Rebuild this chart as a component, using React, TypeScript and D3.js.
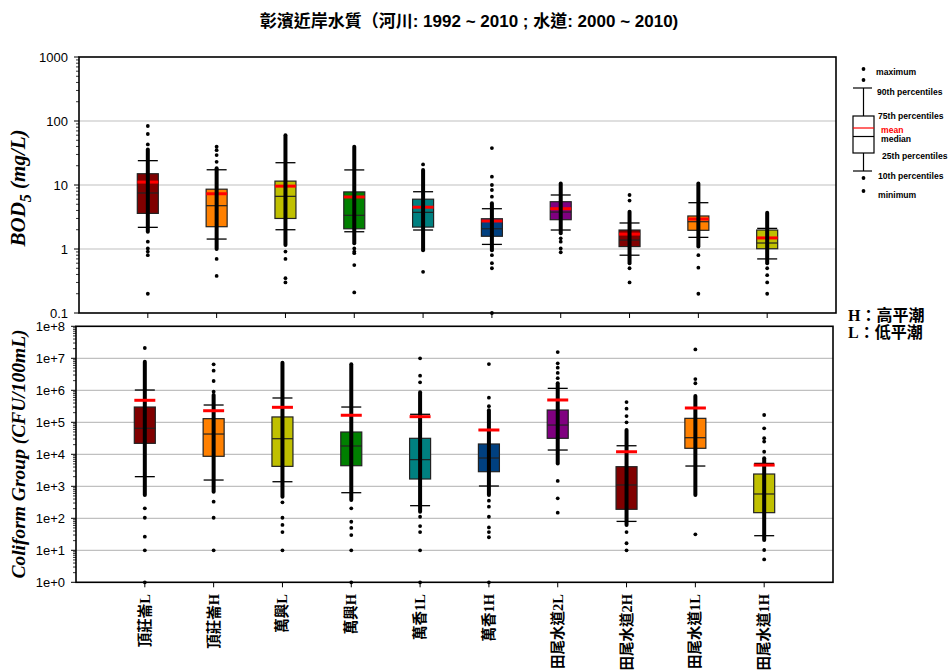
import React from 'react';
import * as d3 from 'd3';

const categories = ['頂莊崙L', '頂莊崙H', '萬興L', '萬興H', '萬香1L', '萬香1H', '田尾水道2L', '田尾水道2H', '田尾水道1L', '田尾水道1H'];
const boxColors = ['#800000', '#ff8000', '#c0c000', '#008000', '#008080', '#004080', '#800080', '#800000', '#ff8000', '#c0c000'];

// BOD5 (mg/L)
const bodP10 = [2.18, 1.43, 2.0, 1.86, 1.98, 1.18, 1.98, 0.8, 1.52, 0.7];
const bodP25 = [3.6, 2.23, 3.0, 2.07, 2.2, 1.58, 2.87, 1.09, 1.96, 1.01];
const bodMedian = [7.5, 4.75, 6.65, 3.36, 3.74, 2.07, 3.78, 1.38, 2.67, 1.24];
const bodP75 = [15.0, 8.6, 11.5, 7.8, 6.0, 2.97, 5.48, 1.98, 3.28, 1.98];
const bodP90 = [24, 17.3, 22.3, 17.2, 7.85, 4.26, 6.98, 2.55, 5.29, 2.1];
const bodMean = [11.1, 7.3, 9.6, 6.5, 4.5, 2.74, 4.26, 1.71, 2.94, 1.49];
const bodDense = [[1.86, 36], [1.0, 18.2], [1.15, 60], [1.23, 39.6], [0.96, 17.1], [0.96, 5.18], [1.76, 10.6], [0.6, 3.83], [1.09, 10.6], [0.6, 3.69]];
const bodPoints = [
  [83.5, 62.6, 43, 1.3, 1.02, 0.91, 0.8, 0.2],
  [39.6, 35, 29.4, 23, 0.7, 0.38],
  [0.91, 0.7, 0.35, 0.3],
  [1.02, 0.91, 0.86, 0.56, 0.21],
  [21, 0.44],
  [37.8, 13.5, 10, 8.35, 6.56, 0.8, 0.6, 0.5, 0.1],
  [1.47, 1.3, 1.02, 0.89],
  [6.98, 5.7, 0.5, 0.3],
  [0.8, 0.51, 0.2],
  [0.5, 0.39, 0.3, 0.2],
];

// Coliform group (CFU/100mL)
const colP10 = [2.0e3, 1.57e3, 1.39e3, 631, 248, 1.02e3, 1.36e4, 80, 4.3e3, 28.6];
const colP25 = [2.2e4, 8.66e3, 4.2e3, 4.4e3, 1.69e3, 2.86e3, 3.16e4, 191, 1.54e4, 150];
const colMedian = [6.5e4, 4.3e4, 3.07e4, 1.82e4, 6.8e3, 7.66e3, 8.2e4, 1.1e3, 3.3e4, 575];
const colP75 = [3.0e5, 1.3e5, 1.47e5, 4.97e4, 3.16e4, 2.1e4, 2.42e5, 4.1e3, 1.33e5, 2.42e3];
const colP90 = [1.02e6, 3.47e5, 5.75e5, 3.0e5, 1.78e5, 5.75e4, 1.15e6, 1.85e4, 2.8e5, 5.2e3];
const colMean = [4.87e5, 2.3e5, 2.94e5, 1.66e5, 1.5e5, 5.75e4, 4.98e5, 1.2e4, 2.8e5, 4.6e3];
const colDense = [[535, 7.8e6], [678, 7.1e5], [473, 7.3e6], [373, 6.5e6], [161, 8.66e5], [535, 2.4e5], [5.2e3, 1.66e6], [62, 5.75e4], [535, 6.6e5], [21, 7.5e3]];
const colPoints = [
  [2.1e7, 205, 104, 26.6, 10, 1],
  [6.5e6, 4.1e6, 1.95e6, 9.0e5, 330, 104, 10],
  [316, 104, 62, 37, 10],
  [205, 78, 50, 30, 10, 1],
  [1e7, 2.86e6, 1.78e6, 112, 57, 37, 10, 1],
  [6.6e6, 5.9e5, 3.2e5, 355, 230, 112, 52, 37, 25.6, 1],
  [1.57e7, 6.98e6, 5.1e6, 3.5e6, 2.4e6, 1.47e3, 422, 150],
  [4.3e5, 2.66e5, 1.57e5, 1.0e5, 37, 16.6, 10],
  [1.9e7, 2.25e6, 1.66e6, 31.6],
  [1.69e5, 6.5e4, 3.2e4, 2.5e4, 1.2e4, 10.2, 5.2],
];

const bodTicks = [0.1, 1, 10, 100, 1000];
const bodTickLabels = ['0.1', '1', '10', '100', '1000'];
const colTicks = [1, 10, 100, 1e3, 1e4, 1e5, 1e6, 1e7, 1e8];
const colTickLabels = ['1e+0', '1e+1', '1e+2', '1e+3', '1e+4', '1e+5', '1e+6', '1e+7', '1e+8'];

const legendLabels = ['maximum', '90th percentiles', '75th percentiles', 'mean', 'median', '25th percentiles', '10th percentiles', 'minimum'];

const SANS = 'Arial, "Liberation Sans", Helvetica, sans-serif';
const SERIF = '"Times New Roman", "Liberation Serif", serif';

type PanelProps = {
  x0: number; x1: number; y0: number; y1: number;
  domain: [number, number];
  ticks: number[]; tickLabels: string[];
  p10: number[]; p25: number[]; med: number[]; p75: number[]; p90: number[]; mean: number[];
  dense: number[][]; points: number[][];
  meanOnTop: boolean;
  meanHalf: number;
};

function Panel(p: PanelProps) {
  const x = d3.scaleLinear().domain([0, categories.length + 1]).range([p.x0, p.x1]);
  const y = d3.scaleLog().domain(p.domain).range([p.y1, p.y0]).clamp(true);
  const minor: number[] = [];
  const lo = Math.round(Math.log10(p.domain[0]));
  const hi = Math.round(Math.log10(p.domain[1]));
  for (let e = lo; e < hi; e++) {
    for (let k = 2; k <= 9; k++) minor.push(k * Math.pow(10, e));
  }
  const bw = 10.5;
  const cw = 10;
  return (
    <g>
      {p.ticks.slice(1, -1).map((t, i) => (
        <line key={'g' + i} x1={p.x0} x2={p.x1} y1={y(t)} y2={y(t)} stroke="#c0c0c0" strokeWidth={1.2} />
      ))}
      {categories.map((c, i) => {
        const cx = x(i + 1);
        const meanLine = (
          <line x1={cx - p.meanHalf} x2={cx + p.meanHalf} y1={y(p.mean[i])} y2={y(p.mean[i])} stroke="#ff0000" strokeWidth={3} />
        );
        return (
          <g key={c}>
            <line x1={cx} x2={cx} y1={y(p.p90[i])} y2={y(p.p75[i])} stroke="#000" strokeWidth={1.2} />
            <line x1={cx} x2={cx} y1={y(p.p25[i])} y2={y(p.p10[i])} stroke="#000" strokeWidth={1.2} />
            <rect x={cx - bw} width={2 * bw} y={y(p.p75[i])} height={y(p.p25[i]) - y(p.p75[i])} fill={boxColors[i]} stroke="#222" strokeWidth={1.2} />
            <line x1={cx - bw} x2={cx + bw} y1={y(p.med[i])} y2={y(p.med[i])} stroke="#222" strokeWidth={1.2} />
            {!p.meanOnTop && meanLine}
            <line x1={cx} x2={cx} y1={y(p.dense[i][0])} y2={y(p.dense[i][1])} stroke="#000" strokeWidth={4} strokeLinecap="round" />
            {p.points[i].map((v, j) => (
              <circle key={j} cx={cx} cy={y(v)} r={1.9} fill="#000" />
            ))}
            <line x1={cx - cw} x2={cx + cw} y1={y(p.p90[i])} y2={y(p.p90[i])} stroke="#000" strokeWidth={1.3} />
            <line x1={cx - cw} x2={cx + cw} y1={y(p.p10[i])} y2={y(p.p10[i])} stroke="#000" strokeWidth={1.3} />
            {p.meanOnTop && meanLine}
            <line x1={cx} x2={cx} y1={p.y1} y2={p.y1 + 5} stroke="#000" strokeWidth={1} />
          </g>
        );
      })}
      {minor.map((t, i) => (
        <line key={'m' + i} x1={p.x0 - 3} x2={p.x0} y1={y(t)} y2={y(t)} stroke="#000" strokeWidth={0.8} />
      ))}
      {p.ticks.map((t, i) => (
        <g key={'t' + i}>
          <line x1={p.x0 - 5} x2={p.x0} y1={y(t)} y2={y(t)} stroke="#000" strokeWidth={1} />
          <text x={p.x0 - 11} y={y(t)} dy="0.36em" textAnchor="end" fontFamily={SANS} fontSize={13} fill="#000">{p.tickLabels[i]}</text>
        </g>
      ))}
      <rect x={p.x0} y={p.y0} width={p.x1 - p.x0} height={p.y1 - p.y0} fill="none" stroke="#000" strokeWidth={1.6} />
    </g>
  );
}

function Legend() {
  const cx = 863.5;
  const lx = [876, 877, 878, 881, 881, 882, 878, 878];
  const ly = [72, 92, 116, 130, 139, 156, 176, 195];
  return (
    <g>
      <circle cx={cx} cy={69} r={1.9} fill="#000" />
      <circle cx={cx} cy={80} r={1.9} fill="#000" />
      <line x1={853} x2={872} y1={88} y2={88} stroke="#000" strokeWidth={1.2} />
      <line x1={cx} x2={cx} y1={88} y2={116} stroke="#000" strokeWidth={1.2} />
      <rect x={853} y={116} width={21} height={37} fill="#fff" stroke="#000" strokeWidth={1.2} />
      <line x1={853} x2={874} y1={128} y2={128} stroke="#ff0000" strokeWidth={1.2} />
      <line x1={853} x2={874} y1={136.5} y2={136.5} stroke="#000" strokeWidth={1.2} />
      <line x1={cx} x2={cx} y1={153} y2={171} stroke="#000" strokeWidth={1.2} />
      <line x1={853} x2={872} y1={171} y2={171} stroke="#000" strokeWidth={1.2} />
      <circle cx={cx} cy={178} r={1.9} fill="#000" />
      <circle cx={cx} cy={191} r={1.9} fill="#000" />
      {legendLabels.map((l, i) => (
        <text key={l} x={lx[i]} y={ly[i]} dy="0.35em" fontFamily={SANS} fontSize={8.6} fontWeight="bold" fill={l === 'mean' ? '#ff0000' : '#000'}>{l}</text>
      ))}
    </g>
  );
}

export default function App() {
  const top = { x0: 79, x1: 836, y0: 57, y1: 313 };
  const bot = { x0: 76, x1: 833, y0: 326.3, y1: 582.3 };
  const xb = d3.scaleLinear().domain([0, categories.length + 1]).range([bot.x0, bot.x1]);
  const HL_FONT = '"Liberation Serif", "Noto Sans CJK TC", serif';
  return (
    <svg width={952} height={672} style={{ position: 'absolute', left: 0, top: 0 }}>
      <rect width={952} height={672} fill="#fff" />
      <text x={469} y={27} textAnchor="middle" fontFamily={'Arial, "Liberation Sans", "Noto Sans CJK TC", sans-serif'} fontSize={17} fontWeight="bold" fill="#000">
        彰濱近岸水質（河川: 1992 ~ 2010 ; 水道: 2000 ~ 2010)
      </text>
      <Panel {...top} domain={[0.1, 1000]} ticks={bodTicks} tickLabels={bodTickLabels}
        p10={bodP10} p25={bodP25} med={bodMedian} p75={bodP75} p90={bodP90} mean={bodMean}
        dense={bodDense} points={bodPoints} meanOnTop={false} meanHalf={10.5} />
      <Panel {...bot} domain={[1, 1e8]} ticks={colTicks} tickLabels={colTickLabels}
        p10={colP10} p25={colP25} med={colMedian} p75={colP75} p90={colP90} mean={colMean}
        dense={colDense} points={colPoints} meanOnTop={true} meanHalf={10.5} />
      {categories.map((c, i) => (
        <text key={c} transform={`translate(${xb(i + 1) + 5},594) rotate(-90)`} textAnchor="end"
          fontFamily={'"Liberation Serif", "Noto Sans CJK TC", serif'} fontSize={14.5} fontWeight="bold" fill="#000">{c}</text>
      ))}
      <text transform="translate(25,188) rotate(-90)" textAnchor="middle" fontFamily={SERIF} fontSize={21} fontWeight="bold" fontStyle="italic" fill="#000">
        BOD<tspan fontSize={16} dy={6}>5</tspan><tspan dy={-6}> (mg/L)</tspan>
      </text>
      <text transform="translate(25,454) rotate(-90)" textAnchor="middle" fontFamily={SERIF} fontSize={19.5} fontWeight="bold" fontStyle="italic" fill="#000">
        Coliform Group (CFU/100mL)
      </text>
      <Legend />
      <text x={848} y={321} fontFamily={HL_FONT} fontSize={16} fontWeight="bold" fill="#000">H：高平潮</text>
      <text x={848} y={338} fontFamily={HL_FONT} fontSize={16} fontWeight="bold" fill="#000">L：低平潮</text>
    </svg>
  );
}
